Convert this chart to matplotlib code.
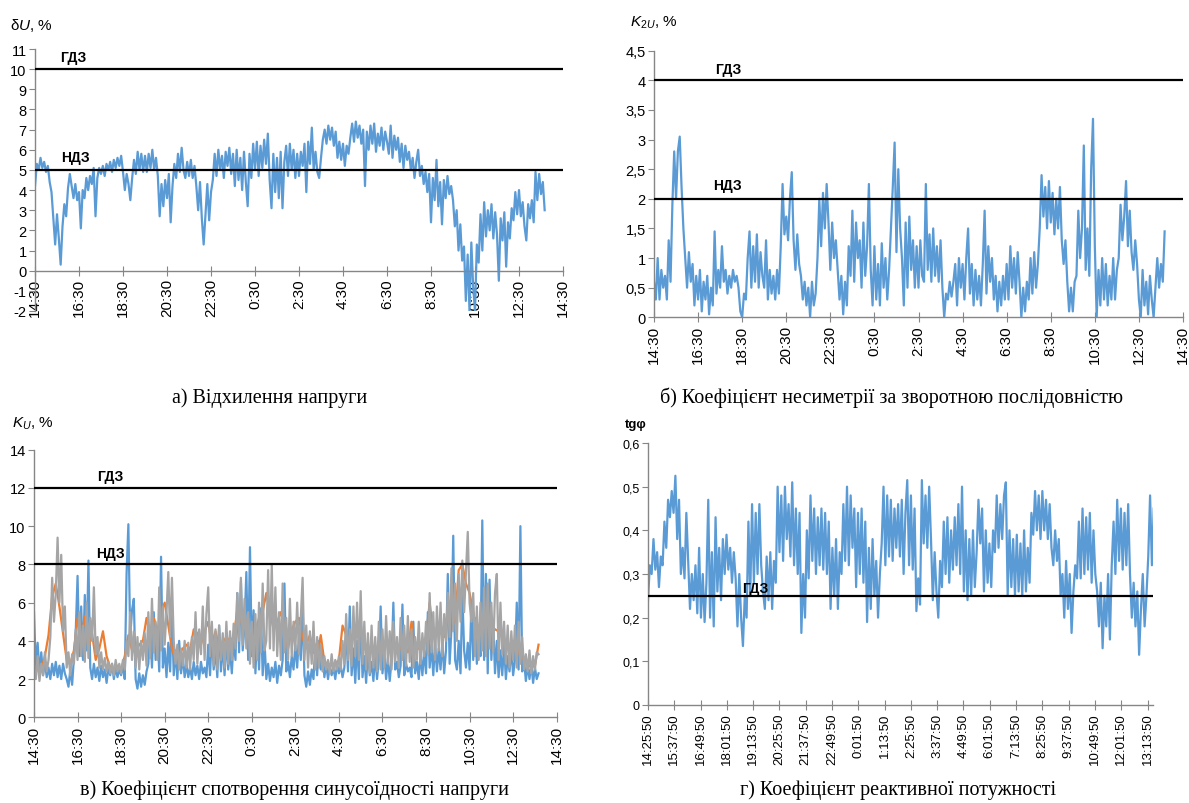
import numpy as np
import matplotlib
matplotlib.use('Agg')
from matplotlib import pyplot as plt
from matplotlib.patches import Rectangle

plt.rcParams['font.family'] = ['Liberation Sans', 'DejaVu Sans']
plt.rcParams['mathtext.fontset'] = 'custom'
plt.rcParams['mathtext.it'] = 'Liberation Sans:italic'
plt.rcParams['mathtext.rm'] = 'Liberation Sans'
plt.rcParams['axes.unicode_minus'] = False

# sampling step of the recorder, hours
step_h = 5 / 60
step_h_orange = 10 / 60

# а) voltage deviation dU, % (from 14:30)
du = [
    4.2, 5.3, 5.0, 5.6, 5.1, 5.4, 4.9, 5.2, 4.4, 3.9, 2.6, 1.3,
    2.8, 1.6, 0.3, 2.2, 3.3, 2.7, 4.1, 4.8, 4.2, 3.6, 4.3, 3.5,
    3.9, 2.1, 4.0, 3.6, 4.6, 4.0, 4.7, 4.3, 5.1, 2.7, 4.6, 5.1,
    4.8, 5.2, 4.7, 5.3, 5.0, 5.4, 4.9, 5.5, 5.1, 5.6, 5.2, 5.7,
    4.9, 4.0, 4.8, 4.3, 3.5, 4.6, 5.5, 4.8, 5.9, 5.0, 5.8, 4.9,
    5.7, 4.9, 5.8, 5.1, 6.0, 5.0, 5.6, 4.7, 2.7, 4.3, 3.2, 4.5,
    3.6, 4.8, 2.4, 4.2, 5.3, 4.6, 5.8, 4.9, 6.1, 5.0, 4.6, 5.4,
    4.7, 5.5, 4.6, 5.2, 4.2, 3.0, 4.4, 2.6, 1.3, 2.8, 4.3, 2.5,
    3.9, 4.5, 5.8, 4.7, 6.0, 5.0, 5.7, 4.6, 5.9, 5.2, 6.1, 4.8,
    5.8, 4.2, 6.0, 4.5, 5.6, 4.0, 5.9, 4.4, 3.2, 5.8, 4.6, 6.3,
    5.0, 6.4, 4.7, 6.2, 5.1, 6.5, 5.3, 6.8, 4.5, 3.1, 5.8, 3.9,
    5.6, 3.6, 5.9, 3.1, 5.4, 6.2, 4.7, 6.3, 5.0, 6.0, 4.6, 5.8,
    4.7, 5.9, 5.2, 6.3, 3.9, 6.4, 5.3, 7.1, 5.0, 5.9, 4.9, 4.6,
    5.6, 6.5, 7.0, 6.3, 7.2, 6.5, 7.1, 6.2, 6.9, 5.6, 6.4, 5.5,
    6.3, 5.2, 6.2, 5.8, 6.6, 7.3, 6.4, 7.4, 6.6, 7.2, 6.3, 7.0,
    4.2, 6.9, 6.0, 7.2, 6.3, 7.3, 5.9, 6.8, 6.2, 7.1, 6.0, 6.9,
    6.4, 5.8, 7.2, 5.6, 6.7, 6.0, 6.6, 5.4, 6.3, 5.1, 6.2, 5.5,
    5.9, 5.0, 5.6, 4.6, 5.4, 6.0, 4.7, 5.2, 4.3, 4.9, 3.9, 4.8,
    2.4, 4.6, 3.5, 5.5, 3.2, 4.4, 2.3, 4.5, 3.6, 4.7, 3.8, 4.2,
    3.5, 2.2, 3.0, 1.0, 2.3, 0.5, 1.2, -1.5, 0.8, -2.0, 1.4, -0.8,
    -2.0, 1.3, 0.4, 2.8, 1.0, 3.4, 1.7, 3.0, 2.0, 3.3, 1.6, 2.9,
    1.8, -0.5, 2.6, 1.5, 2.9, 0.2, 2.4, 1.6, 3.1, 2.5, 3.9, 2.8,
    4.0, 2.7, 3.4, 2.2, 1.5, 3.3, 2.6, 3.5, 2.4, 4.9, 3.5, 4.8,
    3.8, 4.4, 3.0,
]

# б) negative-sequence unbalance K2U, %
k2u = [
    0.6, 0.3, 1.0, 0.3, 0.8, 0.5, 0.7, 0.3, 1.3, 0.6, 1.9, 2.8,
    2.0, 2.8, 3.05, 2.2, 1.5, 1.0, 0.5, 1.1, 0.6, 0.9, 0.2, 0.7,
    0.3, 0.8, 0.1, 0.6, 0.3, 0.7, 0.05, 0.5, 0.2, 1.45, 0.4, 0.8,
    0.5, 1.2, 0.6, 0.8, 0.4, 0.7, 0.5, 0.8, 0.6, 0.7, 0.5, 0.1,
    0.0, 0.4, 0.3, 1.0, 1.45, 0.5, 1.2, 0.6, 1.4, 0.5, 1.1, 0.7,
    0.5, 1.3, 0.3, 0.8, 0.4, 0.7, 0.3, 0.8, 0.4, 1.2, 2.25, 1.4,
    1.7, 1.3, 2.0, 2.45, 1.3, 0.8, 1.4, 0.9, 0.7, 0.3, 0.6, 0.2,
    0.5, 0.0, 0.6, 0.2, 0.4, 1.0, 2.0, 1.2, 2.1, 1.5, 2.25, 1.6,
    0.8, 1.6, 1.0, 1.3, 0.8, 0.3, 0.7, 0.05, 0.6, 0.2, 1.2, 0.7,
    1.8, 0.6, 1.6, 1.0, 1.3, 0.5, 1.6, 0.7, 1.2, 2.25, 0.8, 0.2,
    1.2, 0.3, 0.9, 0.2, 1.25, 0.5, 1.0, 0.3, 0.8, 1.5, 2.2, 2.95,
    1.1, 2.5, 1.5, 1.0, 0.2, 1.6, 0.5, 1.7, 0.8, 1.3, 0.5, 1.2,
    0.5, 1.3, 0.7, 0.6, 2.25, 0.8, 1.4, 0.6, 1.5, 0.7, 1.2, 0.6,
    1.3, 0.5, 0.0, 0.4, 0.3, 0.6, 0.35, 0.6, 0.9, 0.2, 1.0, 0.5,
    0.9, 0.3, 1.0, 1.5, 0.4, 0.9, 0.2, 0.8, 0.3, 0.7, 0.2, 0.9,
    1.8, 0.4, 1.2, 0.6, 1.0, 0.3, 0.7, 0.1, 0.6, 0.2, 0.7, 0.3,
    0.9, 0.3, 1.2, 0.5, 1.0, 0.4, 1.1, 0.6, 0.0, 0.5, 0.1, 0.6,
    0.3, 1.0, 0.4, 1.1, 0.5, 0.9, 1.5, 2.4, 1.7, 2.2, 1.5, 2.3,
    1.6, 2.1, 1.4, 2.0, 1.5, 2.2, 1.3, 0.9, 1.3, 0.6, 0.1, 0.5,
    0.1, 0.6, 0.7, 1.8, 1.0, 1.5, 2.9, 0.8, 1.5, 0.7, 2.5, 3.35,
    1.2, 0.0, 0.8, 0.2, 1.0, 0.3, 0.9, 0.2, 0.7, 0.3, 1.0, 0.3,
    0.8, 1.0, 1.9, 1.3, 1.7, 2.3, 1.2, 1.8, 1.1, 0.8, 1.3, 0.9,
    0.3, 0.0, 0.8, 0.2, 0.6, 0.05, 0.7, 0.3, 0.0, 0.5, 1.0, 0.5,
    0.9, 0.6, 1.45,
]

# в) voltage distortion KU, %, phases A (blue), B (orange), C (grey)
ku_a = [
    5.5, 2.6, 3.9, 2.3, 3.4, 2.2, 2.9, 2.1, 2.6, 2.0, 2.8, 2.2,
    2.9, 2.1, 2.7, 2.0, 2.8, 2.3, 2.0, 1.6, 2.5, 1.7, 3.1, 4.5,
    7.4, 3.2, 5.8, 3.0, 6.4, 3.5, 8.2, 2.6, 2.0, 2.8, 2.1, 2.6,
    1.9, 2.7, 2.1, 2.5, 1.8, 2.6, 2.2, 2.8, 2.0, 2.6, 2.1, 2.5,
    2.2, 2.7, 2.0, 7.5, 10.1, 4.2, 5.6, 6.2, 2.0, 1.5, 2.3, 1.6,
    2.2, 1.7, 2.4, 2.8, 4.6, 2.6, 5.5, 3.0, 4.5, 2.4, 8.4, 2.6,
    3.6, 2.1, 3.9, 2.4, 5.5, 2.2, 3.5, 2.0, 4.0, 2.3, 3.2, 2.1,
    2.8, 2.1, 2.6, 2.0, 2.9, 2.2, 2.7, 2.0, 2.9, 2.3, 2.6, 2.1,
    3.8, 2.2, 4.5, 2.5, 3.6, 2.1, 4.8, 2.4, 3.9, 2.2, 4.2, 2.5,
    3.5, 2.3, 4.1, 3.0, 6.5, 3.4, 7.1, 3.5, 4.8, 7.6, 3.0, 8.9,
    3.2, 5.6, 2.3, 4.7, 2.5, 5.7, 2.2, 4.0, 2.0, 2.8, 1.9, 2.6,
    2.1, 2.9, 1.8, 2.7, 2.2, 3.0, 7.0, 2.4, 2.9, 2.1, 3.2, 2.5,
    3.8, 2.6, 4.3, 3.0, 5.8, 2.2, 1.6, 2.4, 1.7, 2.5, 2.0, 3.8,
    2.2, 4.0, 2.5, 3.3, 2.1, 2.8, 2.0, 2.7, 2.2, 2.6, 2.0, 2.8,
    2.3, 2.7, 2.1, 2.6, 4.6, 2.4, 5.8, 2.2, 3.6, 1.8, 4.0, 2.0,
    5.5, 2.1, 3.2, 1.8, 3.5, 2.2, 2.9, 1.9, 3.3, 2.0, 3.0, 5.8,
    2.3, 3.4, 2.0, 3.1, 1.9, 3.0, 6.0, 2.5, 2.9, 2.1, 2.7, 5.9,
    2.2, 2.8, 2.4, 2.6, 2.1, 5.0, 2.3, 2.9, 2.0, 3.3, 2.2, 3.5,
    2.3, 5.5, 2.6, 3.8, 2.2, 3.9, 2.4, 3.6, 2.5, 4.0, 2.3, 3.5,
    7.5, 2.8, 4.6, 9.5, 3.0, 2.5, 4.0, 2.3, 6.5, 3.5, 2.6, 3.9,
    2.5, 6.0, 3.0, 5.2, 2.8, 4.5, 3.2, 10.3, 3.0, 7.5, 2.3, 7.2,
    3.0, 5.0, 2.3, 4.0, 2.1, 3.5, 2.2, 3.8, 2.0, 3.2, 2.4, 3.6,
    2.2, 3.0, 6.0, 2.5, 10.0, 2.4, 3.0, 1.9, 2.7, 2.0, 2.8, 1.8,
    2.6, 2.0, 2.3,
]
ku_b = [
    2.4, 2.8, 2.5, 3.2, 4.3, 6.3,
    7.0, 5.8, 4.4, 3.0, 2.8, 3.5,
    5.2, 4.0, 5.3, 3.6, 4.4, 3.0,
    3.6, 4.5, 3.2, 2.6, 2.4, 2.7,
    2.5, 3.2, 4.3, 3.5, 3.4, 3.8,
    4.0, 5.2, 4.3, 5.2, 4.5, 5.5,
    6.0, 4.8, 3.6, 3.0, 3.3, 3.6,
    3.8, 3.5, 4.6, 4.4, 3.8, 4.5,
    5.0, 3.8, 4.5, 3.6, 3.9, 4.2,
    4.0, 4.2, 5.6, 5.0, 5.3, 4.4,
    4.0, 4.5, 5.2, 5.5, 6.5, 5.5,
    4.6, 5.0, 5.5, 4.8, 3.6, 4.6,
    5.0, 5.2, 4.1, 3.8, 4.3, 3.4,
    3.2, 4.3, 2.9, 2.8, 2.7, 2.8,
    3.0, 4.8, 4.3, 3.6, 4.5, 4.2,
    4.5, 3.8, 3.2, 3.6, 3.4, 3.8,
    3.6, 4.0, 3.5, 3.8, 3.4, 3.6,
    3.7, 3.4, 5.0, 3.5, 3.6, 3.8,
    4.2, 6.0, 4.4, 4.6, 4.4, 4.2,
    5.5, 6.2, 5.0, 7.7, 8.0, 7.0,
    6.5, 5.5, 4.5, 5.0, 5.0, 5.4,
    4.8, 4.6, 4.5, 4.2, 3.8, 3.6,
    3.5, 3.6, 3.2, 3.0, 2.8, 2.6,
    2.7, 3.8,
]
ku_c = [
    2.5, 2.0, 3.2, 1.9, 2.8, 2.2, 3.4, 2.4, 3.0, 4.2, 7.3, 5.0,
    6.5, 9.4, 6.0, 8.5, 4.5, 5.8, 2.6, 3.4, 2.2, 3.3, 2.8, 4.6,
    3.0, 5.5, 3.2, 4.8, 2.9, 6.0, 3.1, 5.2, 4.0, 6.8, 3.3, 4.2,
    2.6, 3.4, 2.5, 3.1, 2.4, 2.9, 2.3, 2.8, 2.2, 3.0, 2.4, 2.8,
    2.3, 3.0, 2.5, 4.0, 3.2, 5.5, 3.0, 4.5, 2.6, 4.2, 2.5, 4.0,
    3.0, 4.4, 2.7, 5.5, 3.1, 6.2, 3.4, 5.0, 3.0, 6.8, 3.5, 5.8,
    3.8, 5.5, 7.6, 4.2, 7.3, 4.0, 2.8, 3.8, 2.5, 3.6, 2.7, 4.0,
    2.6, 3.9, 2.5, 4.2, 3.0, 5.5, 2.8, 4.6, 3.3, 5.8, 3.0, 5.4,
    6.8, 3.2, 5.0, 2.7, 4.6, 2.5, 4.8, 3.0, 4.4, 2.6, 5.0, 2.8,
    4.5, 3.0, 4.9, 3.6, 6.5, 4.0, 7.3, 3.8, 6.2, 3.6, 5.5, 2.8,
    5.0, 2.6, 5.4, 3.0, 6.0, 3.4, 7.0, 3.5, 4.0, 7.7, 3.6, 8.0,
    3.5, 6.8, 3.2, 5.5, 3.0, 7.0, 3.4, 5.2, 3.0, 6.2, 3.2, 5.0,
    3.5, 6.0, 3.3, 5.2, 7.3, 3.0, 4.8, 2.6, 4.5, 2.8, 5.0, 2.5,
    4.2, 2.6, 3.8, 2.4, 3.2, 2.5, 3.0, 2.3, 3.3, 2.4, 3.0, 2.5,
    3.2, 2.5, 4.0, 2.8, 5.4, 3.0, 4.6, 2.7, 5.8, 3.2, 6.0, 3.0,
    6.6, 2.8, 5.0, 2.5, 4.4, 2.3, 4.8, 2.6, 4.2, 2.4, 5.0, 2.5,
    4.6, 2.6, 5.3, 2.8, 4.5, 2.5, 5.0, 2.9, 4.2, 2.6, 5.2, 3.0,
    4.8, 2.7, 5.3, 2.9, 4.6, 2.6, 4.2, 3.0, 5.0, 2.8, 4.4, 3.2,
    5.0, 3.3, 6.5, 3.4, 5.5, 3.0, 5.8, 3.5, 6.0, 3.2, 5.4, 4.0,
    6.5, 4.2, 7.8, 4.5, 7.0, 4.0, 7.5, 5.0, 8.2, 5.5, 7.6, 9.7,
    6.0, 5.0, 6.5, 3.2, 5.8, 3.0, 6.0, 3.5, 6.8, 3.2, 7.0, 3.6,
    6.0, 3.4, 6.5, 7.5, 3.0, 6.0, 3.3, 5.0, 2.8, 4.8, 2.6, 4.5,
    3.0, 4.8, 2.6, 5.0, 2.8, 4.2, 2.5, 3.3, 2.4, 3.5, 2.3, 3.2,
    2.5, 3.4, 3.3,
]

# г) reactive power factor tg(phi), from 14:25:50
tg = [
    0.24, 0.32, 0.30, 0.38, 0.31, 0.35, 0.27, 0.34, 0.32, 0.42, 0.36, 0.47,
    0.43, 0.49, 0.44, 0.525, 0.38, 0.47, 0.30, 0.36, 0.29, 0.44, 0.33, 0.22,
    0.30, 0.24, 0.32, 0.21, 0.36, 0.20, 0.30, 0.19, 0.28, 0.47, 0.20, 0.35,
    0.18, 0.43, 0.26, 0.36, 0.24, 0.38, 0.30, 0.39, 0.31, 0.36, 0.28, 0.35,
    0.29, 0.18, 0.30, 0.20, 0.135, 0.25, 0.20, 0.42, 0.25, 0.46, 0.28, 0.44,
    0.30, 0.46, 0.32, 0.26, 0.22, 0.34, 0.24, 0.35, 0.22, 0.33, 0.28, 0.50,
    0.35, 0.48, 0.33, 0.50, 0.38, 0.46, 0.34, 0.51, 0.32, 0.45, 0.30, 0.44,
    0.165, 0.30, 0.20, 0.40, 0.29, 0.48, 0.33, 0.45, 0.30, 0.43, 0.32, 0.45,
    0.31, 0.44, 0.30, 0.42, 0.22, 0.36, 0.25, 0.38, 0.22, 0.35, 0.30, 0.46,
    0.33, 0.50, 0.32, 0.48, 0.36, 0.45, 0.27, 0.44, 0.30, 0.45, 0.28, 0.42,
    0.19, 0.36, 0.22, 0.38, 0.25, 0.33, 0.20, 0.30, 0.37, 0.50, 0.32, 0.48,
    0.34, 0.47, 0.33, 0.45, 0.36, 0.46, 0.34, 0.47, 0.30, 0.44, 0.515, 0.32,
    0.48, 0.31, 0.45, 0.215, 0.29, 0.23, 0.515, 0.37, 0.48, 0.36, 0.50, 0.38,
    0.24, 0.35, 0.26, 0.20, 0.33, 0.27, 0.42, 0.30, 0.43, 0.28, 0.40, 0.31,
    0.43, 0.32, 0.46, 0.30, 0.50, 0.26, 0.40, 0.24, 0.38, 0.25, 0.40, 0.27,
    0.35, 0.47, 0.37, 0.45, 0.26, 0.40, 0.28, 0.37, 0.27, 0.40, 0.35, 0.48,
    0.36, 0.46, 0.38, 0.48, 0.51, 0.25, 0.40, 0.27, 0.38, 0.25, 0.39, 0.26,
    0.37, 0.25, 0.40, 0.26, 0.36, 0.28, 0.44, 0.39, 0.49, 0.40, 0.48, 0.38,
    0.49, 0.40, 0.47, 0.38, 0.46, 0.36, 0.32, 0.40, 0.33, 0.38, 0.25, 0.30,
    0.20, 0.33, 0.22, 0.30, 0.165, 0.26, 0.32, 0.29, 0.42, 0.29, 0.45, 0.30,
    0.43, 0.31, 0.44, 0.28, 0.40, 0.30, 0.26, 0.18, 0.28, 0.13, 0.25, 0.18,
    0.30, 0.15, 0.32, 0.42, 0.30, 0.47, 0.33, 0.45, 0.31, 0.44, 0.32, 0.46,
    0.30, 0.20, 0.28, 0.18, 0.26, 0.115, 0.22, 0.30, 0.18, 0.25, 0.34, 0.48,
    0.32, 0.45,
]

day_ticks = ['14:30', '16:30', '18:30', '20:30', '22:30', '0:30', '2:30',
             '4:30', '6:30', '8:30', '10:30', '12:30', '14:30']
tg_ticks = ['14:25:50', '15:37:50', '16:49:50', '18:01:50', '19:13:50',
            '20:25:50', '21:37:50', '22:49:50', '0:01:50', '1:13:50',
            '2:25:50', '3:37:50', '4:49:50', '6:01:50', '7:13:50',
            '8:25:50', '9:37:50', '10:49:50', '12:01:50', '13:13:50']

BLUE = '#5b9bd5'
ORANGE = '#ed7d31'
GREY = '#a5a5a5'
AXC = '#868686'
LW = 1.6


def hours(vals, step):
    return np.arange(len(vals)) * step


def style_axes(ax, yfs, xfs):
    for s in ('top', 'right'):
        ax.spines[s].set_visible(False)
    for s in ('left', 'bottom'):
        ax.spines[s].set_color(AXC)
        ax.spines[s].set_linewidth(1.0)
    ax.tick_params(axis='y', direction='out', length=4, color=AXC,
                   labelsize=yfs, pad=2)
    ax.tick_params(axis='x', direction='inout', length=7, color=AXC,
                   labelsize=xfs, labelrotation=90, pad=2)


def limit_line(ax, y, label, xl, yl):
    ax.axhline(y, color='black', lw=1.6, zorder=5)
    ax.text(xl, yl, label, ha='center', va='center', fontsize=10,
            fontweight='bold', zorder=6,
            family=['Liberation Sans Narrow', 'Liberation Sans'])


def caption(x, y, s):
    fig.text(x / 1189, 1 - y / 804, s, family='Liberation Serif',
             fontsize=14.5, ha='center', va='center', zorder=12)


def blank(x0, y0, x1, y1):
    # white strip: the source figure crops the rotated tick labels here
    fig.patches.append(Rectangle((x0 / 1189, 1 - y1 / 804),
                                 (x1 - x0) / 1189, (y1 - y0) / 804,
                                 transform=fig.transFigure,
                                 facecolor='white', edgecolor='none',
                                 zorder=10))


fig = plt.figure(figsize=(11.89, 8.04), dpi=100)

# а)
ax1 = fig.add_axes([35 / 1189, 1 - 312 / 804, 528 / 1189, 262 / 804])
ax1.plot(hours(du, step_h), du, color=BLUE, lw=LW)
ax1.set_xlim(0, 24)
ax1.set_ylim(-2, 11)
ax1.set_yticks(range(-2, 12))
ax1.set_xticks(range(0, 25, 2))
ax1.set_xticklabels(day_ticks)
style_axes(ax1, 10.5, 11)
ax1.spines['bottom'].set_position(('data', 0))
limit_line(ax1, 10, 'ГДЗ', 1.75, 10.6)
limit_line(ax1, 5, 'НДЗ', 1.85, 5.65)
fig.text(10 / 1189, 1 - 25 / 804, r'δ$\mathit{U}$, %', fontsize=11,
         va='center')
blank(0, 323, 590, 345)
caption(270, 398, 'а) Відхилення напруги')

# б)
ax2 = fig.add_axes([654 / 1189, 1 - 318.3 / 804, 529 / 1189, 266.6 / 804])
ax2.plot(hours(k2u, step_h), k2u, color=BLUE, lw=LW)
ax2.set_xlim(0, 24)
ax2.set_ylim(0, 4.5)
ax2.set_yticks(np.arange(0, 4.51, 0.5))
ax2.set_yticklabels(['0', '0,5', '1', '1,5', '2', '2,5', '3', '3,5', '4', '4,5'])
ax2.set_xticks(range(0, 25, 2))
ax2.set_xticklabels(day_ticks)
style_axes(ax2, 10.5, 11)
limit_line(ax2, 4, 'ГДЗ', 3.35, 4.19)
limit_line(ax2, 2, 'НДЗ', 3.35, 2.23)
fig.text(630 / 1189, 1 - 23 / 804, r'$K_{2U}$, %', fontsize=11, va='center')
caption(892, 398, 'б) Коефіцієнт несиметрії за зворотною послідовністю')

# в)
ax3 = fig.add_axes([34 / 1189, 1 - 718.3 / 804, 522.7 / 1189, 267.6 / 804])
ax3.plot(hours(ku_a, step_h), ku_a, color=BLUE, lw=LW)
ax3.plot(hours(ku_b, step_h_orange), ku_b, color=ORANGE, lw=LW)
ax3.plot(hours(ku_c, step_h), ku_c, color=GREY, lw=LW)
ax3.set_xlim(0, 24)
ax3.set_ylim(0, 14)
ax3.set_yticks(range(0, 15, 2))
ax3.set_xticks(range(0, 25, 2))
ax3.set_xticklabels(day_ticks)
style_axes(ax3, 10.5, 11)
limit_line(ax3, 12, 'ГДЗ', 3.5, 12.65)
limit_line(ax3, 8, 'НДЗ', 3.5, 8.6)
fig.text(12 / 1189, 1 - 424 / 804, r'$K_U$, %', fontsize=11, va='center')
blank(0, 772, 590, 781)
caption(294, 790, 'в) Коефіцієнт спотворення синусоїдності напруги')

# г)
ax4 = fig.add_axes([648 / 1189, 1 - 706 / 804, 505 / 1189, 262 / 804])
ax4.plot(hours(tg, step_h), tg, color=BLUE, lw=LW)
ax4.set_xlim(0, 23.05)
ax4.set_ylim(0, 0.6)
ax4.set_yticks(np.arange(0, 0.61, 0.1))
ax4.set_yticklabels(['0', '0,1', '0,2', '0,3', '0,4', '0,5', '0,6'])
ax4.set_xticks(np.arange(len(tg_ticks)) * 1.2)
ax4.set_xticklabels(tg_ticks)
style_axes(ax4, 9, 9.5)
limit_line(ax4, 0.25, 'ГДЗ', 4.88, 0.268)
fig.text(625 / 1189, 1 - 425 / 804, 'tgφ', fontsize=9.5, fontweight='bold',
         va='center')
caption(898, 790, 'г) Коефіцієнт реактивної потужності')

fig.savefig('out.png', dpi=100)
